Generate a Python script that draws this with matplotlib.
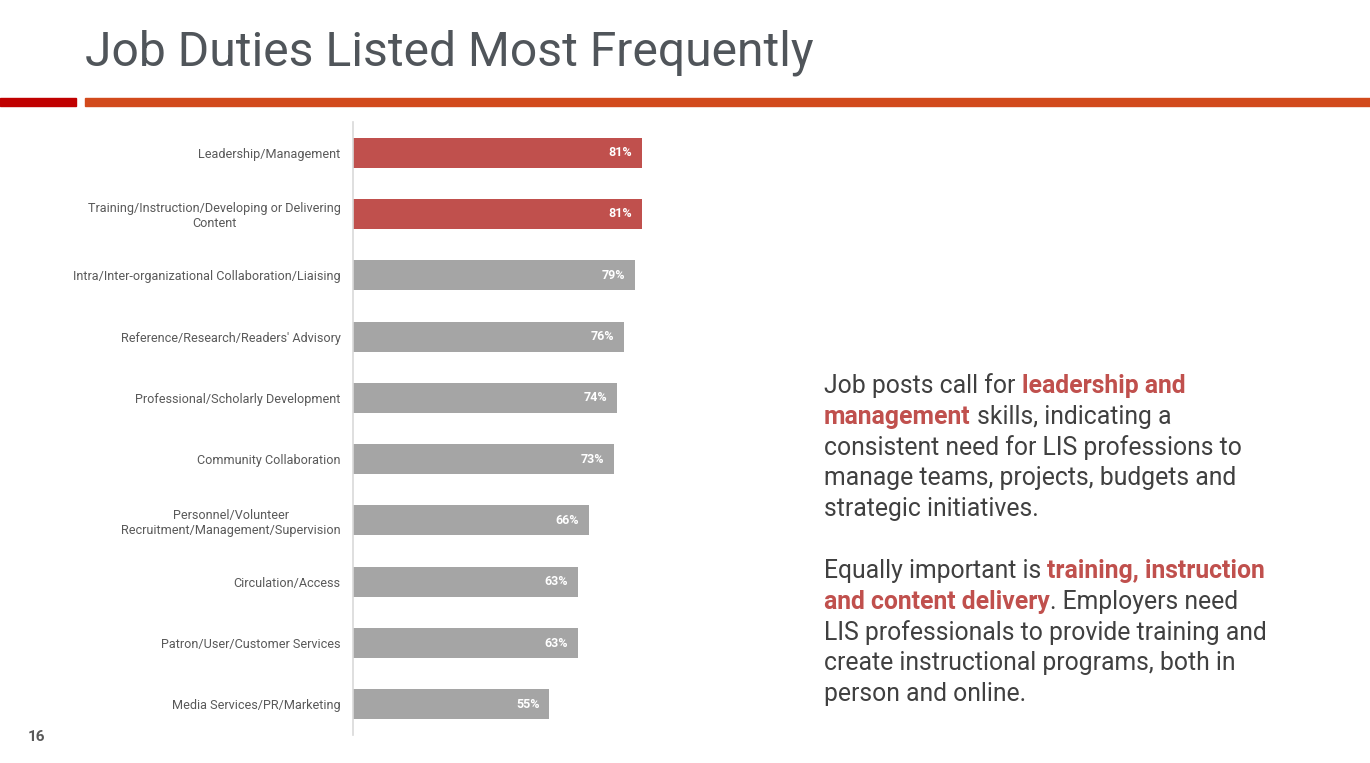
import matplotlib.pyplot as plt
import numpy as np

duties = ["Leadership/Management",
          "Training/Instruction/Developing or Delivering\nContent",
          "Intra/Inter-organizational Collaboration/Liaising",
          "Reference/Research/Readers' Advisory",
          "Professional/Scholarly Development",
          "Community Collaboration",
          "Personnel/Volunteer\nRecruitment/Management/Supervision",
          "Circulation/Access",
          "Patron/User/Customer Services",
          "Media Services/PR/Marketing"]
pct = [81, 81, 79, 76, 74, 73, 66, 63, 63, 55]
highlight = [True, True, False, False, False, False, False, False, False, False]

para1 = [[("Job posts call for ", False), ("leadership and", True)],
         [("management", True), (" skills, indicating a", False)],
         [("consistent need for LIS professions to", False)],
         [("manage teams, projects, budgets and", False)],
         [("strategic initiatives.", False)]]
para2 = [[("Equally important is ", False), ("training, instruction", True)],
         [("and content delivery", True), (". Employers need", False)],
         [("LIS professionals to provide training and", False)],
         [("create instructional programs, both in", False)],
         [("person and online.", False)]]

RED = "#C0504D"
GREY = "#A5A5A5"
TXT = "#595959"

plt.rcParams['font.family'] = ['Roboto', 'DejaVu Sans']

fig = plt.figure(figsize=(13.7, 7.63), dpi=100)
W, H = 1370, 763

# title and header rules
fig.text(85 / W, 1 - 53 / H, "Job Duties Listed Most Frequently", fontsize=34.6,
         color="#50555A", va="center", ha="left")
fig.add_artist(plt.Rectangle((0, 1 - 106 / H), 76 / W, 8 / H, color="#C00000",
                             transform=fig.transFigure))
fig.add_artist(plt.Rectangle((85 / W, 1 - 106 / H), 1 - 85 / W, 8 / H, color="#D24A1C",
                             transform=fig.transFigure))
fig.text(28 / W, 1 - 737 / H, "16", fontsize=11, fontweight="bold", color=TXT,
         va="center", ha="left")

# bar chart
ax = fig.add_axes([353 / W, 1 - 735 / H, 357 / W, 613 / H])
y = np.arange(len(duties))
colors = [RED if h else GREY for h in highlight]
ax.barh(y, pct, height=0.49, color=colors)
ax.set_xlim(0, 100)
ax.set_ylim(len(duties) - 0.5, -0.5)
ax.set_yticks(y)
ax.set_yticklabels(duties, fontsize=9.1, color=TXT)
for lab in ax.get_yticklabels():
    lab.set_multialignment("center")
ax.tick_params(axis="y", length=0, pad=9)
ax.set_xticks([])
for s in ["top", "right", "bottom"]:
    ax.spines[s].set_visible(False)
ax.spines["left"].set_color("#D9D9D9")
ax.spines["left"].set_linewidth(1.2)
for yi, v in zip(y, pct):
    ax.annotate(f"{v}%", (v, yi), xytext=(-7, 0), textcoords="offset points",
                ha="right", va="center", color="white", fontsize=9,
                fontweight="bold")

# side commentary with coloured bold words
fig.canvas.draw()
renderer = fig.canvas.get_renderer()
x0 = 824
line_h = 30.8
rows = para1 + [[]] + para2
ystart = 386
for i, segs in enumerate(rows):
    xp = x0
    yp = ystart + i * line_h
    for txt, bold in segs:
        t = fig.text(xp / W, 1 - yp / H, txt, fontsize=17.8,
                     color=RED if bold else "#404040",
                     fontweight="bold" if bold else "normal",
                     va="center", ha="left")
        bb = t.get_window_extent(renderer)
        xp += bb.width

fig.savefig("out.png", dpi=100)
